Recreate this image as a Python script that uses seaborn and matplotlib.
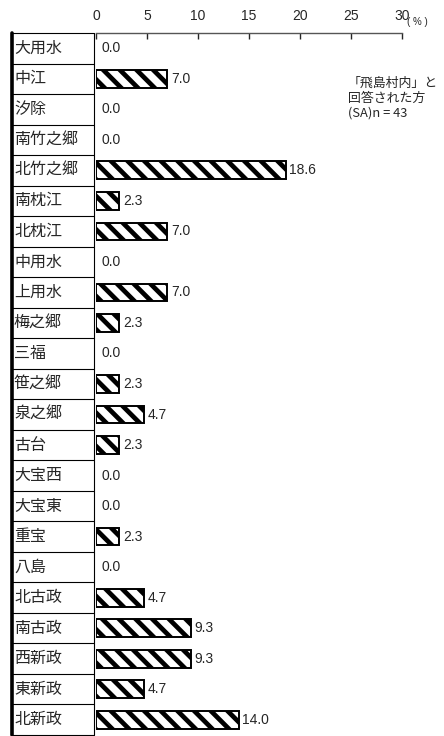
# 飛島村内の地区別 回答割合

import pandas as pd
import matplotlib
matplotlib.use("Agg")
import matplotlib.pyplot as plt
import seaborn as sns


# Data
districts = [
    "大用水", "中江", "汐除", "南竹之郷", "北竹之郷", "南枕江", "北枕江",
    "中用水", "上用水", "梅之郷", "三福", "笹之郷", "泉之郷", "古台",
    "大宝西", "大宝東", "重宝", "八島", "北古政", "南古政", "西新政",
    "東新政", "北新政",
]
percent = [
    0.0, 7.0, 0.0, 0.0, 18.6, 2.3, 7.0,
    0.0, 7.0, 2.3, 0.0, 2.3, 4.7, 2.3,
    0.0, 0.0, 2.3, 0.0, 4.7, 9.3, 9.3,
    4.7, 14.0,
]
x_ticks = [0, 5, 10, 15, 20, 25, 30]

df = pd.DataFrame({"district": districts, "percent": percent})


sns.set_style("white")
plt.rcParams["font.family"] = ["Liberation Sans", "Noto Sans CJK JP", "DejaVu Sans"]
plt.rcParams["hatch.linewidth"] = 3.4

W, H = 444, 736
fig = plt.figure(figsize=(W / 100, H / 100), dpi=100)
ax = fig.add_axes([96 / W, 1 - 735 / H, 306 / W, 702 / H])

sns.barplot(
    data=df,
    x="percent",
    y="district",
    orient="h",
    color="white",
    edgecolor="black",
    linewidth=1.4,
    width=0.58,
    ax=ax,
)

for patch in ax.patches:
    patch.set_hatch("\\\\")
    if patch.get_width() == 0:
        patch.set_visible(False)

# value labels
for i, v in enumerate(percent):
    off = 0.55 if v == 0 else 0.35
    ax.text(v + off, i, f"{v:.1f}", va="center", ha="left", fontsize=10)

ax.set_xlim(0, 30)
ax.set_ylim(len(districts) - 0.5, -0.5)
ax.set_xticks(x_ticks)
ax.xaxis.tick_top()
ax.tick_params(axis="x", direction="in", length=4, width=1, pad=7,
               labelsize=10, top=True, bottom=False)
ax.set_yticks([])
ax.set_xlabel("")
ax.set_ylabel("")
for side in ["left", "right", "bottom"]:
    ax.spines[side].set_visible(False)
ax.spines["top"].set_linewidth(1)
ax.spines["top"].set_color("#555555")

ax.text(1.05, 1.016, "( % )", transform=ax.transAxes, fontsize=7, va="center", ha="center")

# label table on the left
tr = ax.get_yaxis_transform()
x_left = (11.5 - 96) / 306
x_right = (94 - 96) / 306
for k in range(len(districts) + 1):
    ax.plot([x_left, x_right], [k - 0.5, k - 0.5], color="black", lw=0.8,
            transform=tr, clip_on=False)
ax.plot([x_right, x_right], [-0.5, len(districts) - 0.5], color="black", lw=0.8,
        transform=tr, clip_on=False)
ax.plot([x_left, x_left], [-0.5, len(districts) - 0.5], color="black", lw=2.6,
        transform=tr, clip_on=False)
for i, name in enumerate(districts):
    ax.text((14 - 96) / 306, i, name, transform=tr, va="center", ha="left",
            fontsize=11.5, family=["Noto Sans CJK JP", "DejaVu Sans"])

# note
fig.text(348 / W, 1 - 77 / H, "「飛島村内」と\n回答された方\n(SA)n = 43",
         va="top", ha="left", fontsize=9.3, linespacing=1.2,
         family=["Noto Sans CJK JP", "DejaVu Sans"])

plt.savefig("out.png", dpi=100)
